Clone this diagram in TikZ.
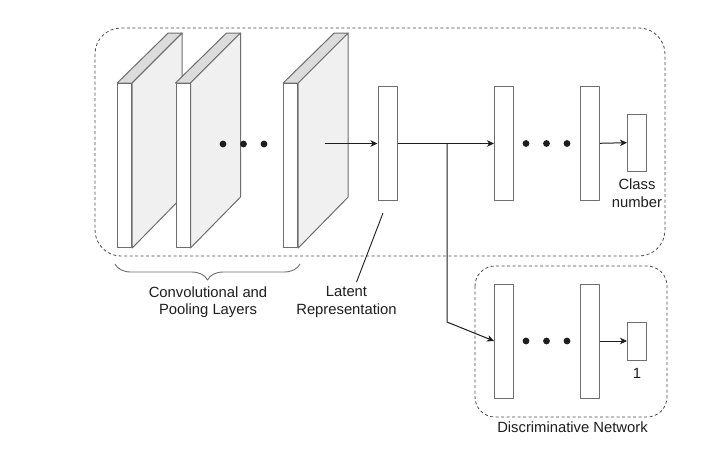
\documentclass[tikz,border=0pt]{standalone}
\usepackage{fontspec}
\setmainfont{Liberation Sans}
\usetikzlibrary{arrows, arrows.meta, decorations.pathreplacing}
\definecolor{edge}{HTML}{6E6E6E}
\definecolor{sideface}{HTML}{F0F0F0}
\definecolor{topface}{HTML}{DCDCDC}
\definecolor{ink}{HTML}{1E1E1E}
\tikzstyle{layer} = [rectangle, 
minimum width=19pt,
minimum height=114pt,
inner sep=0pt,
fill=white,
draw=edge]
\tikzstyle{outbox} = [rectangle, 
minimum width=19pt,
inner sep=0pt,
fill=white,
draw=edge]
\tikzstyle{front} = [rectangle, 
minimum width=14pt,
minimum height=164pt,
inner sep=0pt,
fill=white,
draw=edge]
\tikzstyle{group} = [draw=ink!80, dash pattern=on 3pt off 2.5pt, line width=0.8pt]
\tikzstyle{txt} = [align=center, text=ink, inner sep=0pt, font=\fontsize{14.8}{17.5}\selectfont]
\tikzstyle{arrow} = [ink, line width=1pt, ->, >={Stealth[length=7pt, width=6.5pt, inset=2pt]}]

\begin{document}
\begin{tikzpicture}[x=1pt, y=-1pt, line width=1pt, line join=round]
        \useasboundingbox [fill=white] (0,0) rectangle (722,450);

        % dashed groups
        \draw [group, rounded corners=26pt] (95,28) rectangle (665,256);
        \draw [group, rounded corners=20pt] (475,266) rectangle (667,417);

        % convolution and pooling slabs
        \foreach \i/\x in {1/124.7, 2/183, 3/290.7} {
            \node (conv\i) [front] at (\x,165.5) {};
            \filldraw [fill=topface, draw=edge] (conv\i.north west) -- (conv\i.north east) -- ++(50,-50) -- ++(-14,0) -- cycle;
            \filldraw [fill=sideface, draw=edge] (conv\i.north east) -- ++(50,-50) -- ++(0,164) -- (conv\i.south east) -- cycle;
            \node [front] at (\x,165.5) {};
        }
        \foreach \x in {223, 243.5, 264} \fill [ink] (\x,144) circle (3.4);

        % latent and classifier
        \node (latent) [layer] at (387.5,143.5) {};
        \node (fc1) [layer] at (504,143.5) {};
        \node (fc2) [layer] at (590,143.5) {};
        \node (class) [outbox, minimum height=57pt] at (637,142.5) {};
        \foreach \x in {526, 546.5, 567} \fill [ink] (\x,143.5) circle (3.4);
        \node (classlbl) [txt] at (637,193) {Class\\number};

        % discriminative network
        \node (d1) [layer] at (504,341) {};
        \node (d2) [layer] at (590,341) {};
        \node (one) [outbox, minimum height=38pt] at (637,341) {};
        \foreach \x in {526, 546.5, 567} \fill [ink] (\x,341) circle (3.4);
        \node (onelbl) [txt] at (637,373) {1};
        \node (disclbl) [txt] at (572.5,427) {Discriminative Network};

        \coordinate (convout) at (325,143.5);
        \coordinate (split) at (447,143.5);
        \coordinate (bend) at (447,322);

        \draw [arrow] (convout) -- (latent);
        \draw [arrow] (latent) -- (fc1);
        \draw [arrow] (fc2) -- (class);
        \draw [arrow] (split) -- (bend) -- (d1.west);
        \draw [arrow] (d2) -- (one);

        % labels
        \draw [edge, line width=0.9pt, decorate, decoration={brace, amplitude=16pt, mirror}] (115,264) -- (300,264);
        \node (convlbl) [txt] at (208,302) {Convolutional and\\Pooling Layers};
        \node (latentlbl) [txt] at (346.5,302) {Latent\\Representation};
        \draw [ink, line width=0.9pt] ([xshift=10pt, yshift=4pt]latentlbl.north) -- ([xshift=-4.5pt, yshift=-12pt]latent.south);
    \end{tikzpicture}
\end{document}
